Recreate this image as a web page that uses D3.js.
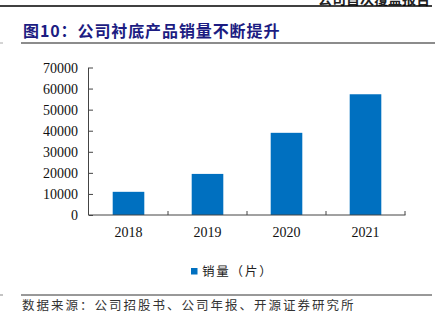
<!DOCTYPE html>
<html>
<head>
<meta charset="utf-8">
<script src="https://cdn.jsdelivr.net/npm/d3@7/dist/d3.min.js"></script>
<style>
  html, body { margin: 0; padding: 0; background: #fff; }
  svg { display: block; }
</style>
</head>
<body>
<svg id="chart" width="435" height="322"></svg>
<script>
// Sales volume of substrate products, by year
const years = ["2018", "2019", "2020", "2021"];
const sales = [11000, 19500, 39000, 57300];
const yTicks = [0, 10000, 20000, 30000, 40000, 50000, 60000, 70000];
const seriesName = "销量（片）";
const titleText = "图10：公司衬底产品销量不断提升";
const sourceText = "数据来源：公司招股书、公司年报、开源证券研究所";
const headerText = "公司首次覆盖报告";

const svg = d3.select("#chart");
const serif = "'Liberation Serif', 'Times New Roman', serif";
const cjk = "'Noto Sans CJK SC', sans-serif";

// page header fragment and rule
svg.append("text")
  .attr("x", 430).attr("y", 4)
  .attr("text-anchor", "end")
  .attr("font-family", cjk).attr("font-size", 14).attr("font-weight", "bold")
  .attr("fill", "#222")
  .text(headerText);
svg.append("line")
  .attr("x1", 0).attr("x2", 432).attr("y1", 6).attr("y2", 6)
  .attr("stroke", "#000").attr("stroke-width", 1.5);

// figure title
svg.append("text")
  .attr("x", 23).attr("y", 37)
  .attr("font-family", cjk).attr("font-size", 16).attr("font-weight", "bold")
  .attr("letter-spacing", 0.9)
  .attr("fill", "#1c1c82")
  .text(titleText);
svg.append("line")
  .attr("x1", 21).attr("x2", 435).attr("y1", 43).attr("y2", 43)
  .attr("stroke", "#8c8c8c").attr("stroke-width", 2);
svg.append("line")
  .attr("x1", 0).attr("x2", 3).attr("y1", 43).attr("y2", 43)
  .attr("stroke", "#aaa").attr("stroke-width", 1);

// plot area
const x0 = 89, x1 = 405, yBottom = 215, yTop = 67.5;
const x = d3.scaleBand().domain(years).range([x0, x1]).paddingInner(0.6).paddingOuter(0.3);
const y = d3.scaleLinear().domain([0, 70000]).range([yBottom, yTop]);

// bars
svg.append("g").selectAll("rect")
  .data(years.map((yr, i) => ({ yr, v: sales[i] })))
  .join("rect")
  .attr("x", d => x(d.yr))
  .attr("width", x.bandwidth())
  .attr("y", d => y(d.v))
  .attr("height", d => y(0) - y(d.v))
  .attr("fill", "#0070c0");

// y axis
const yAxis = svg.append("g")
  .attr("transform", `translate(${x0},0)`)
  .call(d3.axisLeft(y).tickValues(yTicks).tickSize(4).tickPadding(7).tickFormat(d3.format("d")));
yAxis.select(".domain").attr("stroke", "#444").attr("d", `M-0.5,${yTop}V${yBottom}`);
yAxis.selectAll(".tick line").attr("stroke", "#444").attr("x2", 4).attr("x1", 0);
yAxis.selectAll("text")
  .attr("font-family", serif).attr("font-size", 14).attr("fill", "#111")
  .attr("dy", "0.35em").attr("x", -11);

// x axis with ticks at band boundaries
const xAxisG = svg.append("g").attr("transform", `translate(0,${yBottom})`);
xAxisG.append("line")
  .attr("x1", x0 - 1).attr("x2", x1 + 0.5).attr("y1", 0).attr("y2", 0)
  .attr("stroke", "#444").attr("stroke-width", 1);
const step = (x1 - x0) / years.length;
xAxisG.selectAll(".bt")
  .data(d3.range(1, years.length + 1))
  .join("line")
  .attr("x1", i => x0 + step * i).attr("x2", i => x0 + step * i)
  .attr("y1", 0).attr("y2", -4)
  .attr("stroke", "#444");
xAxisG.selectAll("text")
  .data(years)
  .join("text")
  .attr("x", d => x(d) + x.bandwidth() / 2)
  .attr("y", 22)
  .attr("text-anchor", "middle")
  .attr("font-family", serif).attr("font-size", 14).attr("fill", "#111")
  .text(d => d);

// legend
const lg = svg.append("g").attr("transform", "translate(191,268)");
lg.append("rect").attr("width", 6.5).attr("height", 6.5).attr("fill", "#0070c0");
lg.append("text")
  .attr("x", 11).attr("y", 3.5).attr("dy", "0.35em")
  .attr("font-family", cjk).attr("font-size", 12.5).attr("fill", "#222")
  .attr("letter-spacing", 1.8)
  .text(seriesName);

// source note
svg.append("line")
  .attr("x1", 21).attr("x2", 432).attr("y1", 295).attr("y2", 295)
  .attr("stroke", "#333").attr("stroke-width", 1);
svg.append("line")
  .attr("x1", 0).attr("x2", 3).attr("y1", 295).attr("y2", 295)
  .attr("stroke", "#888").attr("stroke-width", 1);
svg.append("text")
  .attr("x", 22).attr("y", 310)
  .attr("font-family", cjk).attr("font-size", 12.5).attr("fill", "#333")
  .attr("letter-spacing", 2)
  .text(sourceText);
</script>
</body>
</html>
